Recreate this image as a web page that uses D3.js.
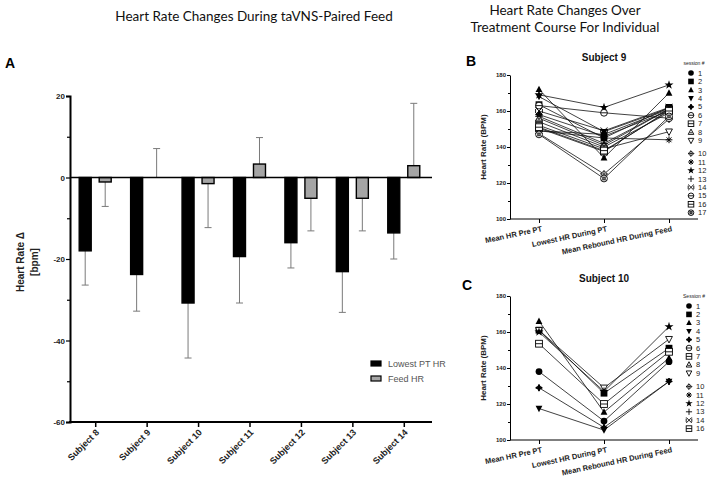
<!DOCTYPE html>
<html><head><meta charset="utf-8">
<script src="https://cdn.jsdelivr.net/npm/d3@7"></script>
<style>body{margin:0;background:#fff}svg{display:block}</style>
</head><body>
<svg id="chart" width="708" height="485"></svg>
<script>
// ---------- Panel A data ----------
const subjectsA = ["Subject 8","Subject 9","Subject 10","Subject 11","Subject 12","Subject 13","Subject 14"];
const lowestPT    = [-18.0, -23.8, -30.8, -19.4, -16.0, -23.1, -13.6];
const lowestPTErr = [8.4, 9.0, 13.5, 11.4, 6.2, 10.0, 6.4];
const feedHR      = [-1.1, 0, -1.5, 3.3, -5.1, -5.1, 2.9];
const feedHRErr   = [6.0, 7.1, 10.8, 6.5, 8.0, 8.0, 15.3];
const seriesA = ["Lowest PT HR", "Feed HR"];
const ticksA = [-60,-50,-40,-30,-20,-10,0,10,20];

// ---------- Panels B / C data ----------
const phases = ["Mean HR Pre PT", "Lowest HR During PT", "Mean Rebound HR During Feed"];
const ticksBC = [100,110,120,130,140,150,160,170,180];

const sessionsB = [1,2,3,4,5,6,7,8,9,10,11,12,13,14,15,16,17];
const symbolsB = ["circleF","squareF","triUpF","triDownF","diamondF","circleLine","squareLine","triUpO","triDownO","diamondPlus","asterisk","starF","plus","xBar","circleLine","squareLine","circleX"];
const valuesB = [
  [149, 147, 161],
  [163.5, 145, 162],
  [172, 134, 170],
  [168, 148.5, 161.5],
  [158, 146, 160],
  [154, 140, 159],
  [150.5, 137.5, 160.5],
  [156, 141, 161],
  [152, 139, 148.5],
  [147.5, 125, 155.5],
  [149, 145, 144],
  [169, 162, 174.5],
  [157, 142, 161],
  [160, 149, 162],
  [163, 159, 156],
  [151, 138, 160],
  [147, 122.5, 157]
];

const sessionsC = [1,2,3,4,5,6,7,8,9,10,11,12,13,14,16];
const symbolsC = ["circleF","squareF","triUpF","triDownF","diamondF","circleLine","squareLine","triUpO","triDownO","diamondPlus","asterisk","starF","plus","xBar","squareLine"];
const valuesC = [
  [138, 110.5, 143.5],
  [161, 126, 151],
  [166, 115.5, 145.5],
  [117.5, 105.5, 132.5],
  [129, 107, 132.5],
  null,
  [153.5, 120, 149],
  null,
  [161, 129, 156],
  null,
  null,
  [160, 127, 163],
  null,
  null,
  null
];

const svg = d3.select("#chart");
const ARIAL = "'Liberation Sans', Arial, sans-serif";
const TITLEF = "Lato, 'Open Sans', sans-serif";

// ---------- Titles ----------
svg.append("text").attr("x", 254).attr("y", 21).attr("text-anchor","middle")
  .style("font-family", TITLEF).style("font-size","13.5px").attr("fill","#111")
  .text("Heart Rate Changes During taVNS-Paired Feed");
svg.append("text").attr("x", 565).attr("y", 15).attr("text-anchor","middle")
  .style("font-family", TITLEF).style("font-size","13.5px").attr("fill","#111")
  .text("Heart Rate Changes Over");
svg.append("text").attr("x", 565).attr("y", 32).attr("text-anchor","middle")
  .style("font-family", TITLEF).style("font-size","13.5px").attr("fill","#111")
  .text("Treatment Course For Individual");

function panelLetter(t, x, y){
  svg.append("text").attr("x", x).attr("y", y).style("font-family", ARIAL)
    .style("font-size","14px").style("font-weight","bold").text(t);
}
panelLetter("A", 5, 68);
panelLetter("B", 466, 66);
panelLetter("C", 462, 290);

// ---------- Panel A ----------
(function(){
  const x = d3.scaleBand().domain(subjectsA).range([70, 430]);
  const x1 = d3.scaleBand().domain(seriesA).range([9.2, 41.2]).paddingInner(0.4);
  const y = d3.scaleLinear().domain([-60, 20]).range([422, 96]);
  const g = svg.append("g");

  const rows = subjectsA.map((s,i)=>({s, vals:[
    {k:seriesA[0], v:lowestPT[i], e:lowestPTErr[i], fill:"#000"},
    {k:seriesA[1], v:feedHR[i], e:feedHRErr[i], fill:"#a5a5a5"}]}));

  const grp = g.selectAll("g.grp").data(rows).join("g")
    .attr("transform", d=>`translate(${x(d.s)},0)`);
  // error bars
  grp.selectAll("g.err").data(d=>d.vals).join("g").each(function(d){
    const cx = x1(d.k) + x1.bandwidth()/2;
    const end = d.v >= 0 ? d.v + d.e : d.v - d.e;
    const sel = d3.select(this);
    sel.append("line").attr("x1",cx).attr("x2",cx).attr("y1",y(d.v)).attr("y2",y(end))
      .attr("stroke","#7a7a7a").attr("stroke-width",1);
    sel.append("line").attr("x1",cx-3.5).attr("x2",cx+3.5).attr("y1",y(end)).attr("y2",y(end))
      .attr("stroke","#7a7a7a").attr("stroke-width",1);
  });
  grp.selectAll("rect").data(d=>d.vals.filter(v=>v.v!==0)).join("rect")
    .attr("x", d=>x1(d.k)).attr("width", x1.bandwidth())
    .attr("y", d=>y(Math.max(0,d.v))).attr("height", d=>Math.abs(y(d.v)-y(0)))
    .attr("fill", d=>d.fill).attr("stroke","#000").attr("stroke-width",1.4);

  // zero line
  g.append("line").attr("x1",70).attr("x2",432).attr("y1",y(0)).attr("y2",y(0))
    .attr("stroke","#000").attr("stroke-width",1.5);

  // y axis
  const ya = g.append("g").attr("transform","translate(70,0)")
    .call(d3.axisLeft(y).tickValues(ticksA).tickSize(4).tickFormat(d=> d%20===0 ? d : ""));
  ya.select(".domain").attr("stroke-width",2);
  ya.selectAll(".tick line").attr("stroke-width",1.2).attr("x2", d=> d%20===0 ? -4 : -3);
  ya.selectAll("text").style("font-family",ARIAL).style("font-size","8px").style("font-weight","bold").attr("x",-5).attr("fill","#222");

  // x axis
  const xa = g.append("g").attr("transform","translate(0,422)")
    .call(d3.axisBottom(x).tickSize(5).tickSizeOuter(0));
  xa.select(".domain").attr("stroke-width",2).attr("d","M69,0H432");
  xa.selectAll(".tick line").attr("stroke-width",1.5);
  xa.selectAll("text").style("font-family",ARIAL).style("font-size","9px").style("font-weight","bold")
    .attr("text-anchor","end").attr("dy",0).attr("y",0)
    .attr("transform","translate(4,11) rotate(-45)").attr("fill","#222");

  // y label
  g.append("text").attr("transform","translate(24,262) rotate(-90)").attr("text-anchor","middle")
    .style("font-family",ARIAL).style("font-size","10px").style("font-weight","bold").attr("fill","#222")
    .text("Heart Rate \u0394");
  g.append("text").attr("transform","translate(38,262) rotate(-90)").attr("text-anchor","middle")
    .style("font-family",ARIAL).style("font-size","10px").style("font-weight","bold").attr("fill","#222")
    .text("[bpm]");

  // legend
  const lg = g.append("g");
  [[seriesA[0],"#000"],[seriesA[1],"#a5a5a5"]].forEach((d,i)=>{
    lg.append("rect").attr("x",371).attr("y",361+i*15).attr("width",10).attr("height",5)
      .attr("fill",d[1]).attr("stroke","#000").attr("stroke-width",1.2);
    lg.append("text").attr("x",388).attr("y",367+i*15).style("font-family",ARIAL)
      .style("font-size","9px").attr("fill","#555").text(d[0]);
  });
})();

// ---------- symbol drawing ----------
function drawSymbol(g, type, s){
  const k = s;
  const blk = "#000";
  switch(type){
    case "circleF": g.append("circle").attr("r",k).attr("fill",blk); break;
    case "squareF": g.append("rect").attr("x",-k).attr("y",-k).attr("width",2*k).attr("height",2*k).attr("fill",blk); break;
    case "triUpF": g.append("path").attr("d",`M0,${-k*1.1}L${k},${k*0.8}L${-k},${k*0.8}Z`).attr("fill",blk); break;
    case "triDownF": g.append("path").attr("d",`M0,${k*1.1}L${k},${-k*0.8}L${-k},${-k*0.8}Z`).attr("fill",blk); break;
    case "diamondF": g.append("path").attr("d",`M0,${-k}Q0.3,-0.3 ${k},0Q0.3,0.3 0,${k}Q-0.3,0.3 ${-k},0Q-0.3,-0.3 0,${-k}Z`).attr("fill",blk).attr("stroke",blk).attr("stroke-width",1.2); break;
    case "circleLine":
      g.append("circle").attr("r",k).attr("fill","#fff").attr("stroke",blk).attr("stroke-width",0.9);
      g.append("line").attr("x1",-k).attr("x2",k).attr("stroke",blk).attr("stroke-width",0.9); break;
    case "squareLine":
      g.append("rect").attr("x",-k).attr("y",-k).attr("width",2*k).attr("height",2*k).attr("fill","#fff").attr("stroke",blk).attr("stroke-width",0.9);
      g.append("line").attr("x1",-k).attr("x2",k).attr("stroke",blk).attr("stroke-width",0.9); break;
    case "triUpO":
      g.append("path").attr("d",`M0,${-k*1.1}L${k},${k*0.8}L${-k},${k*0.8}Z`).attr("fill","#fff").attr("stroke",blk).attr("stroke-width",0.9);
      g.append("line").attr("x1",-k*0.5).attr("x2",k*0.5).attr("y1",k*0.2).attr("y2",k*0.2).attr("stroke",blk).attr("stroke-width",0.8); break;
    case "triDownO":
      g.append("path").attr("d",`M0,${k*1.1}L${k},${-k*0.8}L${-k},${-k*0.8}Z`).attr("fill","#fff").attr("stroke",blk).attr("stroke-width",0.9); break;
    case "diamondPlus":
      g.append("path").attr("d",`M0,${-k}L${k},0L0,${k}L${-k},0Z`).attr("fill","#fff").attr("stroke",blk).attr("stroke-width",0.9);
      g.append("path").attr("d",`M${-k},0H${k}M0,${-k}V${k}`).attr("stroke",blk).attr("stroke-width",0.8); break;
    case "asterisk": {
      let d = "";
      for (let a=0;a<4;a++){ const t=a*Math.PI/4; d+=`M${-k*Math.cos(t)},${-k*Math.sin(t)}L${k*Math.cos(t)},${k*Math.sin(t)}`; }
      g.append("path").attr("d",d).attr("stroke",blk).attr("stroke-width",1); break; }
    case "starF":
      g.append("path").attr("d", d3.symbol(d3.symbolStar, k*k*2.2)()).attr("fill",blk); break;
    case "plus":
      g.append("path").attr("d",`M${-k*1.1},0H${k*1.1}M0,${-k*1.1}V${k*1.1}`).attr("stroke",blk).attr("stroke-width",0.9); break;
    case "xBar":
      g.append("path").attr("d",`M${-k},${-k}L${k},${k}M${-k},${k}L${k},${-k}M${-k},${-k*0.6}V${k*0.6}M${k},${-k*0.6}V${k*0.6}`).attr("stroke",blk).attr("stroke-width",0.9); break;
    case "circleX":
      g.append("circle").attr("r",k).attr("fill","#fff").attr("stroke",blk).attr("stroke-width",0.9);
      g.append("circle").attr("r",k*0.45).attr("fill","none").attr("stroke",blk).attr("stroke-width",0.8);
      g.append("path").attr("d",`M${-k*0.7},${-k*0.7}L${k*0.7},${k*0.7}M${-k*0.7},${k*0.7}L${k*0.7},${-k*0.7}`).attr("stroke",blk).attr("stroke-width",0.7); break;
  }
}

// ---------- Panels B / C ----------
function drawLinePanel(opt){
  const x = d3.scalePoint().domain(phases).range([510, 698]).padding(0.446);
  const y = d3.scaleLinear().domain([100,180]).range([opt.bottom, opt.bottom-144]);
  const g = svg.append("g");

  // title
  g.append("text").attr("x",604).attr("y",opt.bottom-158).attr("text-anchor","middle")
    .style("font-family",ARIAL).style("font-size","10px").style("font-weight","bold").attr("fill","#111")
    .text(opt.title);

  // axes
  const ya = g.append("g").attr("transform","translate(510,0)")
    .call(d3.axisLeft(y).tickValues(ticksBC).tickSize(3).tickSizeOuter(0).tickFormat(d=> d%20===0 ? d : ""));
  ya.select(".domain").attr("stroke-width",1);
  ya.selectAll("text").style("font-family",ARIAL).style("font-size","6px").style("font-weight","bold").attr("x",-4).attr("fill","#222");
  ya.selectAll(".tick line").attr("x2", d=> d%20===0 ? -3 : -2);

  const xa = g.append("g").attr("transform",`translate(0,${opt.bottom})`)
    .call(d3.axisBottom(x).tickSize(4).tickSizeOuter(0));
  xa.select(".domain").attr("stroke-width",1).attr("d","M510,0H698");
  xa.selectAll("text").style("font-family",ARIAL).style("font-size","7.5px").style("font-weight","bold")
    .attr("text-anchor","end").attr("y",0).attr("dy",0).attr("fill","#222")
    .attr("transform","translate(3,12) rotate(-12)");

  g.append("text").attr("transform",`translate(486,${opt.bottom-72}) rotate(-90)`).attr("text-anchor","middle")
    .style("font-family",ARIAL).style("font-size","8px").style("font-weight","bold").attr("fill","#222")
    .text("Heart  Rate (BPM)");

  // lines
  const line = d3.line().x((d,i)=>x(phases[i])).y(d=>y(d));
  const series = opt.sessions.map((s,i)=>({s, sym:opt.symbols[i], vals:opt.values[i]})).filter(d=>d.vals);
  g.selectAll("path.ln").data(series).join("path").attr("class","ln")
    .attr("d", d=>line(d.vals)).attr("fill","none").attr("stroke","#111").attr("stroke-width",0.8);
  series.forEach(d=>{
    d.vals.forEach((v,i)=>{
      const mg = g.append("g").attr("transform",`translate(${x(phases[i])},${y(v)})`);
      drawSymbol(mg, d.sym, 3.4);
    });
  });

  // legend
  g.append("text").attr("x",694).attr("y",opt.legTop-8).attr("text-anchor","middle")
    .style("font-family",ARIAL).style("font-size","5px").attr("fill","#222").text(opt.legTitle);
  opt.sessions.forEach((s,i)=>{
    const yy = opt.legTop + i*opt.legStep + (i>=9 ? opt.legGap : 0);
    const mg = g.append("g").attr("transform",`translate(${opt.legX},${yy})`);
    drawSymbol(mg, opt.symbols[i], 2.8);
    g.append("text").attr("x",opt.legX+7).attr("y",yy+2.6).style("font-family",ARIAL)
      .style("font-size","7.5px").attr("fill","#222").text(s);
  });
}

drawLinePanel({title:"Subject 9", bottom:219, sessions:sessionsB, symbols:symbolsB, values:valuesB,
  legX:691, legTop:73, legStep:8.45, legGap:4.5, legTitle:"session #"});
drawLinePanel({title:"Subject 10", bottom:440, sessions:sessionsC, symbols:symbolsC, values:valuesC,
  legX:689, legTop:306, legStep:8.4, legGap:5, legTitle:"Session #"});
</script>
</body></html>
